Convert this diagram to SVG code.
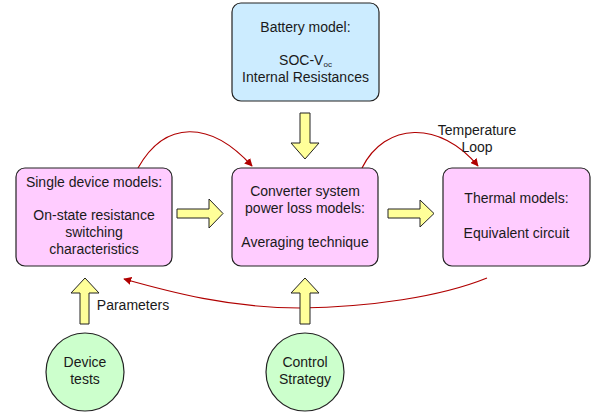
<svg xmlns="http://www.w3.org/2000/svg" width="597" height="418" viewBox="0 0 597 418">
<defs>
<style>
text{font-family:"Liberation Sans",Arial,sans-serif;font-size:14px;fill:#1a1a1a;text-anchor:middle}
.box{fill:#FFCCFF;stroke:#222;stroke-width:1.2}
.bat{fill:#CCECFF;stroke:#222;stroke-width:1.2}
.circ{fill:#CCFFCC;stroke:#222;stroke-width:1.2}
.arr{fill:#FFFF99;stroke:#222;stroke-width:1}
.link{fill:none;stroke:#B00000;stroke-width:1.2}
</style>
<marker id="ah" viewBox="0 0 10 10" refX="9" refY="5" markerWidth="8" markerHeight="8" markerUnits="userSpaceOnUse" orient="auto">
<path d="M0,0 L10,5 L0,10 z" fill="#B00000"/>
</marker>
</defs>
<g id="connectors">
<path class="link" d="M138,168 C165,120 210,120 252,166" marker-end="url(#ah)"/>
<path class="link" d="M362,168 C385,122 440,120 478,166" marker-end="url(#ah)"/>
<path class="link" d="M487,278 C440,297 370,307 300,308 C230,308 170,292 124,279" marker-end="url(#ah)"/>
<path class="arr" d="M300,113 L310,113 L310,143 L319,143 L305,159 L291,143 L300,143 z"/>
<path class="arr" d="M177,209 L209,209 L209,199 L223,213.5 L209,228 L209,218 L177,218 z"/>
<path class="arr" d="M388,209 L420,209 L420,200 L434,213.5 L420,227 L420,218 L388,218 z"/>
<path class="arr" d="M80,324 L80,293 L71,293 L85,278 L99,293 L89,293 L89,324 z"/>
<path class="arr" d="M300,324 L300,293 L291,293 L305,278 L319,293 L310,293 L310,324 z"/>
</g>
<g id="battery">
<rect class="bat" x="232" y="3" width="147" height="98" rx="9"/>
<text x="305.5" y="32">Battery model:</text>
<text x="305.5" y="65">SOC-V<tspan font-size="8" dy="2">oc</tspan></text>
<text x="305.5" y="82">Internal Resistances</text>
</g>
<g id="single">
<rect class="box" x="16" y="168" width="156" height="98" rx="9"/>
<text x="94" y="187">Single device models:</text>
<text x="94" y="220">On-state resistance</text>
<text x="94" y="237">switching</text>
<text x="94" y="254">characteristics</text>
</g>
<g id="converter">
<rect class="box" x="232" y="168" width="146" height="98" rx="9"/>
<text x="305" y="196">Converter system</text>
<text x="305" y="213">power loss models:</text>
<text x="305" y="247">Averaging technique</text>
</g>
<g id="thermal">
<rect class="box" x="443" y="168" width="147" height="98" rx="9"/>
<text x="516.5" y="203">Thermal models:</text>
<text x="516.5" y="238">Equivalent circuit</text>
</g>
<g id="device">
<circle class="circ" cx="85" cy="372" r="39"/>
<text x="85" y="367">Device</text>
<text x="85" y="384">tests</text>
</g>
<g id="control">
<circle class="circ" cx="305" cy="372" r="39"/>
<text x="305" y="367">Control</text>
<text x="305" y="384">Strategy</text>
</g>
<g id="labels">
<text x="477" y="135">Temperature</text>
<text x="477" y="152">Loop</text>
<text x="133" y="310">Parameters</text>
</g>
</svg>
